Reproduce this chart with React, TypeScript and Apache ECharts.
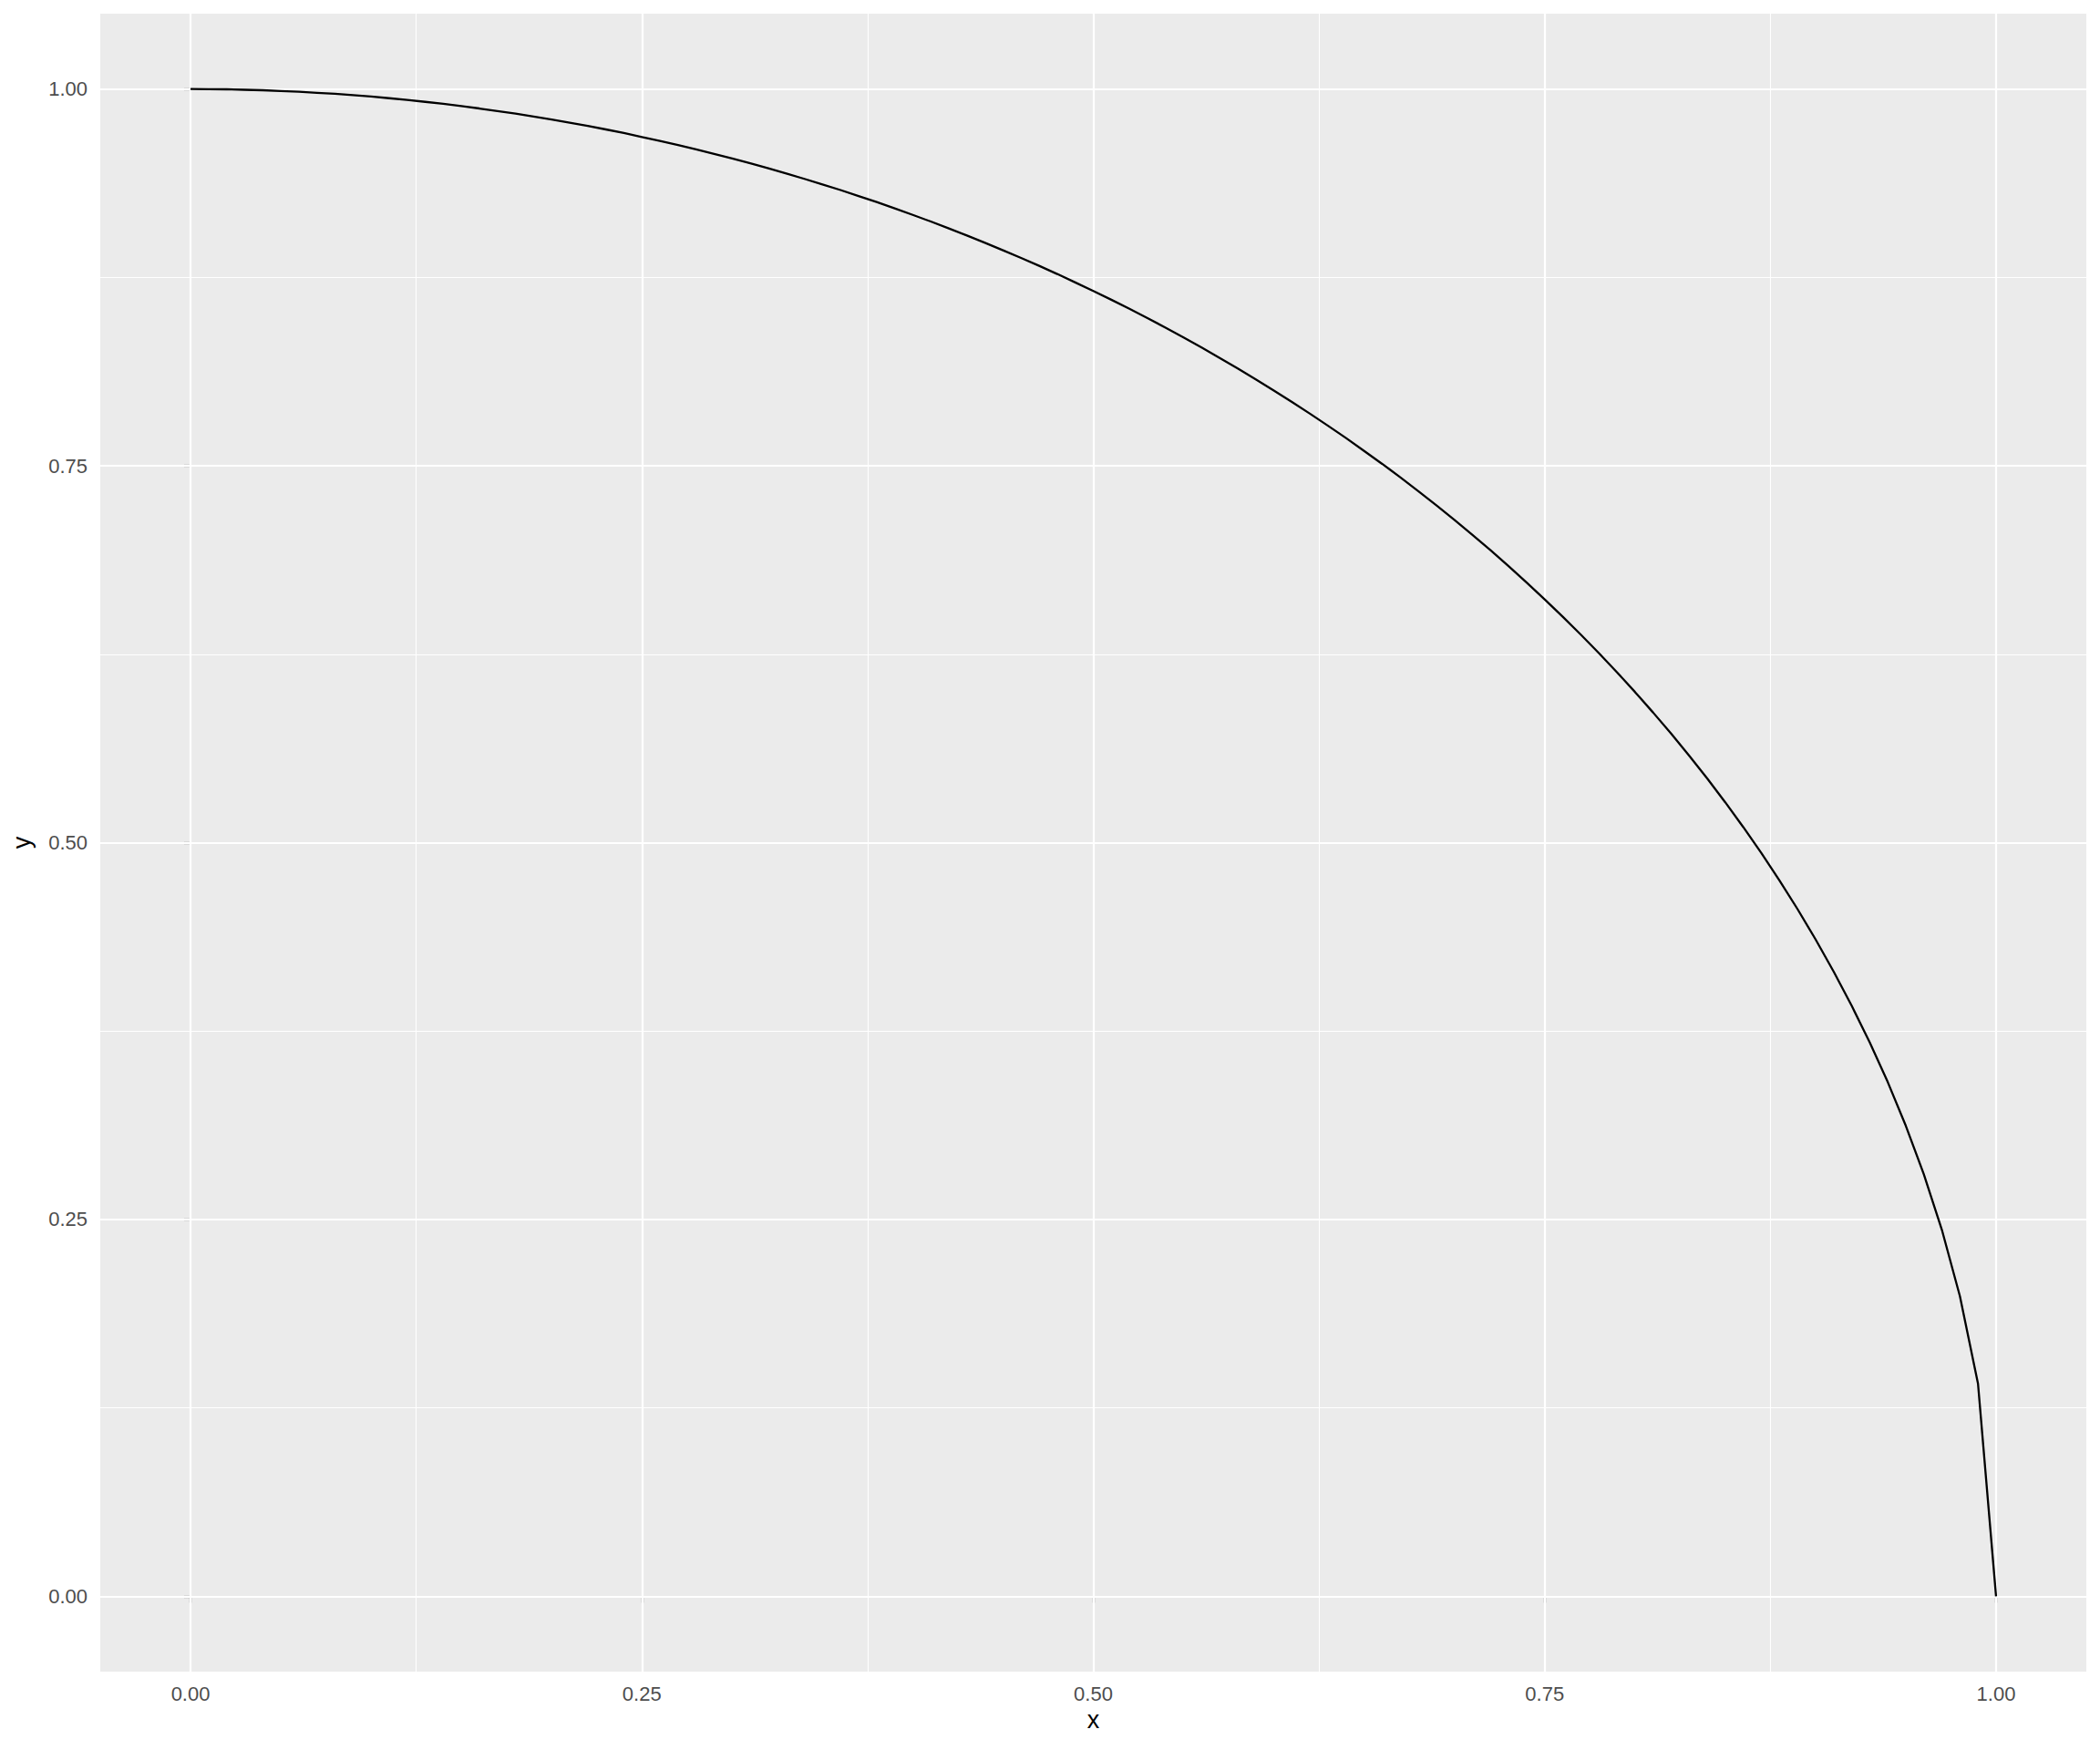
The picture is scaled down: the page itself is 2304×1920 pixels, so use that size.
import React, { useEffect, useRef } from "react";
import * as echarts from "echarts";

const xValues = [
  0.0, 0.01, 0.02, 0.03, 0.04, 0.05, 0.06, 0.07, 0.08, 0.09,
  0.1, 0.11, 0.12, 0.13, 0.14, 0.15, 0.16, 0.17, 0.18, 0.19,
  0.2, 0.21, 0.22, 0.23, 0.24, 0.25, 0.26, 0.27, 0.28, 0.29,
  0.3, 0.31, 0.32, 0.33, 0.34, 0.35, 0.36, 0.37, 0.38, 0.39,
  0.4, 0.41, 0.42, 0.43, 0.44, 0.45, 0.46, 0.47, 0.48, 0.49,
  0.5, 0.51, 0.52, 0.53, 0.54, 0.55, 0.56, 0.57, 0.58, 0.59,
  0.6, 0.61, 0.62, 0.63, 0.64, 0.65, 0.66, 0.67, 0.68, 0.69,
  0.7, 0.71, 0.72, 0.73, 0.74, 0.75, 0.76, 0.77, 0.78, 0.79,
  0.8, 0.81, 0.82, 0.83, 0.84, 0.85, 0.86, 0.87, 0.88, 0.89,
  0.9, 0.91, 0.92, 0.93, 0.94, 0.95, 0.96, 0.97, 0.98, 0.99,
  1.0,
];

const yValues = [
  1.0, 0.9999, 0.9998, 0.9995, 0.9992, 0.9987, 0.9982, 0.9975, 0.9968, 0.9959,
  0.995, 0.9939, 0.9928, 0.9915, 0.9902, 0.9887, 0.9871, 0.9854, 0.9837, 0.9818,
  0.9798, 0.9777, 0.9755, 0.9732, 0.9708, 0.9682, 0.9656, 0.9629, 0.96, 0.957,
  0.9539, 0.9507, 0.9474, 0.944, 0.9404, 0.9367, 0.933, 0.929, 0.925, 0.9208,
  0.9165, 0.9121, 0.9075, 0.9028, 0.898, 0.893, 0.8879, 0.8827, 0.8773, 0.8717,
  0.866, 0.8602, 0.8542, 0.848, 0.8417, 0.8352, 0.8285, 0.8216, 0.8146, 0.8074,
  0.8, 0.7924, 0.7846, 0.7766, 0.7684, 0.7599, 0.7513, 0.7424, 0.7332, 0.7238,
  0.7141, 0.7042, 0.694, 0.6834, 0.6726, 0.6614, 0.6499, 0.638, 0.6258, 0.6131,
  0.6, 0.5864, 0.5724, 0.5578, 0.5426, 0.5268, 0.5103, 0.4931, 0.475, 0.456,
  0.4359, 0.4146, 0.3919, 0.3676, 0.3412, 0.3122, 0.28, 0.2431, 0.199, 0.1411,
  0.0,
];

const majorBreaks = [0, 0.25, 0.5, 0.75, 1.0];
const minorBreaks = [0.125, 0.375, 0.625, 0.875];

const FONT = "Liberation Sans";

export default function App() {
  const ref = useRef<HTMLDivElement>(null);

  useEffect(() => {
    if (!ref.current) return;
    const chart = echarts.init(ref.current, undefined, { renderer: "svg" });

    const points = xValues.map((x, i) => [x, yValues[i]]);

    const gridLineData = [
      ...minorBreaks.map((v) => ({ xAxis: v, lineStyle: { width: 1.1 } })),
      ...minorBreaks.map((v) => ({ yAxis: v, lineStyle: { width: 1.1 } })),
      ...majorBreaks.map((v) => ({ xAxis: v, lineStyle: { width: 2.2 } })),
      ...majorBreaks.map((v) => ({ yAxis: v, lineStyle: { width: 2.2 } })),
    ];

    const axisCommon = {
      type: "value" as const,
      min: -0.05,
      max: 1.05,
      axisLine: { show: false },
      splitLine: { show: false },
      axisTick: {
        show: true,
        length: 7,
        customValues: majorBreaks,
        lineStyle: { color: "#333333", width: 2.2 },
      },
      nameTextStyle: { color: "#000000", fontSize: 27, fontFamily: FONT },
    };

    chart.setOption({
      animation: false,
      backgroundColor: "#FFFFFF",
      grid: {
        left: 110,
        right: 15,
        top: 15,
        bottom: 86,
        show: true,
        backgroundColor: "#EBEBEB",
        borderWidth: 0,
      },
      xAxis: {
        ...axisCommon,
        name: "x",
        nameLocation: "middle",
        nameGap: 36,
        axisLabel: {
          customValues: majorBreaks,
          margin: 13,
          color: "#4D4D4D",
          fontSize: 22,
          fontFamily: FONT,
          formatter: (v: number) => v.toFixed(2),
        },
      },
      yAxis: {
        ...axisCommon,
        name: "y",
        nameLocation: "middle",
        nameGap: 73,
        nameRotate: 90,
        axisLabel: {
          customValues: majorBreaks,
          margin: 14,
          color: "#4D4D4D",
          fontSize: 22,
          fontFamily: FONT,
          formatter: (v: number) => v.toFixed(2),
        },
      },
      series: [
        {
          type: "line",
          data: [],
          z: 1,
          silent: true,
          markLine: {
            z: 1,
            precision: 6,
            silent: true,
            symbol: ["none", "none"],
            label: { show: false },
            lineStyle: { color: "#FFFFFF", type: "solid" },
            emphasis: { disabled: true },
            data: gridLineData,
          },
        },
        {
          type: "line",
          data: points,
          z: 10,
          showSymbol: false,
          symbol: "none",
          smooth: false,
          lineStyle: { color: "#000000", width: 2.3 },
        },
      ],
    });

    return () => chart.dispose();
  }, []);

  return (
    <div
      ref={ref}
      style={{ position: "fixed", left: 0, top: 0, width: 2304, height: 1920 }}
    />
  );
}
